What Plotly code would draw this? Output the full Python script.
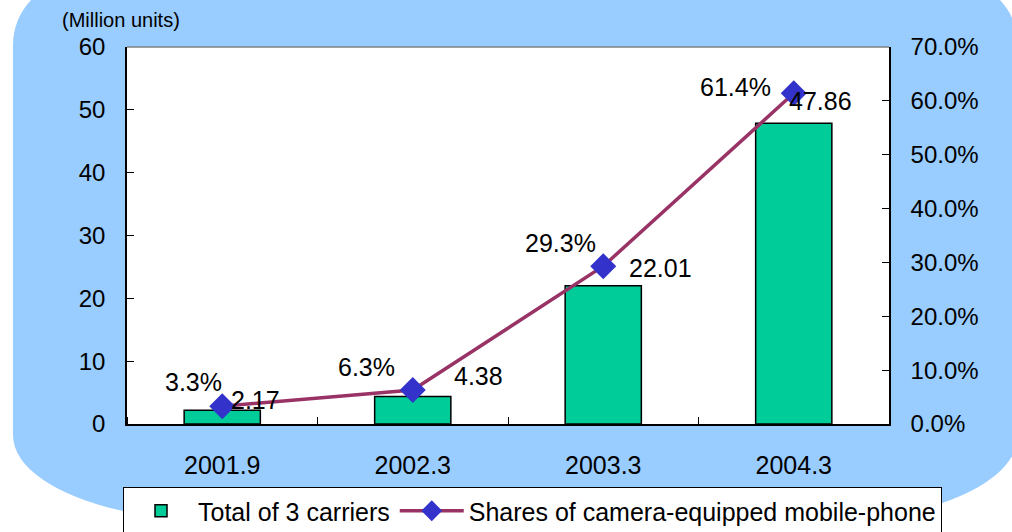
import plotly.graph_objects as go

# data
periods = ["2001.9", "2002.3", "2003.3", "2004.3"]
carrier_totals = [2.17, 4.38, 22.01, 47.86]          # million units
camera_shares = [0.033, 0.063, 0.293, 0.614]         # share of camera phones

# label offsets in px (dx, dy) relative to the point
value_offsets = [(33, 10), (66, 20), (57, 18), (27, 22)]
share_offsets = [(-29, 24), (-46, 23), (-43, 23), (-58, 6)]

xpos = list(range(len(periods)))

W, H = 1012, 532
L, R, T, B = 127, 123, 47, 108
pw, ph = W - L - R, H - T - B


def px(x, y):
    # pixel -> paper coords
    return (x - L) / pw, (H - B - y) / ph


def corner(p0, c, p1, k=0.5523):
    a = (p0[0] + k * (c[0] - p0[0]), p0[1] + k * (c[1] - p0[1]))
    b = (p1[0] + k * (c[0] - p1[0]), p1[1] + k * (c[1] - p1[1]))
    pts = [px(*a), px(*b), px(*p1)]
    return "C " + " ".join(f"{u:.4f},{v:.4f}" for u, v in pts)


def P(x, y):
    u, v = px(x, y)
    return f"{u:.4f},{v:.4f}"


# light blue rounded backdrop
bg_path = " ".join([
    "M " + P(13, 45),
    corner((13, 45), (13, -20), (78, -20)),
    "L " + P(953, -20),
    corner((953, -20), (1018, -20), (1018, 45)),
    "L " + P(1018, 435),
    corner((1018, 435), (1018, 520), (828, 520)),
    "L " + P(213, 520),
    corner((213, 520), (13, 520), (13, 435)),
    "Z",
])

fig = go.Figure()

fig.add_bar(x=xpos, y=carrier_totals, name="Total of 3 carriers",
            marker=dict(color="#00CC99", line=dict(color="black", width=1.5)),
            width=0.4, yaxis="y")

fig.add_scatter(x=xpos, y=camera_shares, name="Shares of camera-equipped mobile-phone",
                mode="lines+markers", yaxis="y2",
                line=dict(color="#993366", width=3.5),
                marker=dict(symbol="diamond", size=20, color="#3333CC"))

annotations = []
for i, v, (dx, dy) in zip(xpos, carrier_totals, value_offsets):
    annotations.append(dict(x=i, y=v, xref="x", yref="y", text=f"{v:.2f}",
                            showarrow=False, xshift=dx, yshift=dy,
                            font=dict(size=25, color="black")))
for i, s, (dx, dy) in zip(xpos, camera_shares, share_offsets):
    annotations.append(dict(x=i, y=s, xref="x", yref="y2", text=f"{s * 100:.1f}%",
                            showarrow=False, xshift=dx, yshift=dy,
                            font=dict(size=25, color="black")))

tl = px(121, 20)
annotations.append(dict(x=tl[0], y=tl[1], xref="paper", yref="paper",
                        text="(Million units)", showarrow=False,
                        xanchor="center", yanchor="middle",
                        font=dict(size=20, color="black")))

fig.update_layout(
    width=W, height=H,
    margin=dict(l=L, r=R, t=T, b=B, pad=0, autoexpand=False),
    paper_bgcolor="white",
    plot_bgcolor="white",
    font=dict(family="Liberation Sans, Arial, sans-serif", size=24, color="black"),
    showlegend=True,
    legend=dict(orientation="h", x=px(123, 0)[0], xanchor="left",
                y=px(0, 487)[1], yanchor="top",
                bgcolor="white", bordercolor="black", borderwidth=1,
                font=dict(size=25), itemwidth=64, tracegroupgap=0),
    xaxis=dict(range=[-0.5, 3.5], tickvals=xpos, ticktext=periods,
               showline=True, linecolor="black", linewidth=1.5,
               ticks="", ticklabelstandoff=18, showgrid=False, zeroline=False,
               tickfont=dict(size=25), automargin=False,
               minor=dict(tick0=0.5, dtick=1, ticks="inside", ticklen=7,
                          tickcolor="black", showgrid=False)),
    yaxis=dict(range=[0, 60], dtick=10, showline=True, linecolor="black", linewidth=1.5,
               ticks="inside", ticklen=7, tickcolor="black", showgrid=False,
               zeroline=False, ticklabelstandoff=15, automargin=False),
    yaxis2=dict(range=[0, 0.7], dtick=0.1, tickformat=".1%", overlaying="y", side="right",
                showline=True, linecolor="black", linewidth=1.5,
                ticks="inside", ticklen=7, tickcolor="black", showgrid=False,
                zeroline=False, ticklabelstandoff=15, automargin=False),
    shapes=[
        dict(type="path", xref="paper", yref="paper", path=bg_path,
             fillcolor="#99CCFF", line=dict(width=0), layer="below"),
        dict(type="rect", xref="paper", yref="paper", x0=0, y0=0, x1=1, y1=1,
             fillcolor="white", line=dict(width=0), layer="below"),
        dict(type="line", xref="paper", yref="paper", x0=0, y0=1, x1=1, y1=1,
             line=dict(color="#808080", width=1.5)),
    ],
    annotations=annotations,
)

fig.write_html("out.html", config={"displayModeBar": False},
               post_script="document.body.style.margin='0';")
